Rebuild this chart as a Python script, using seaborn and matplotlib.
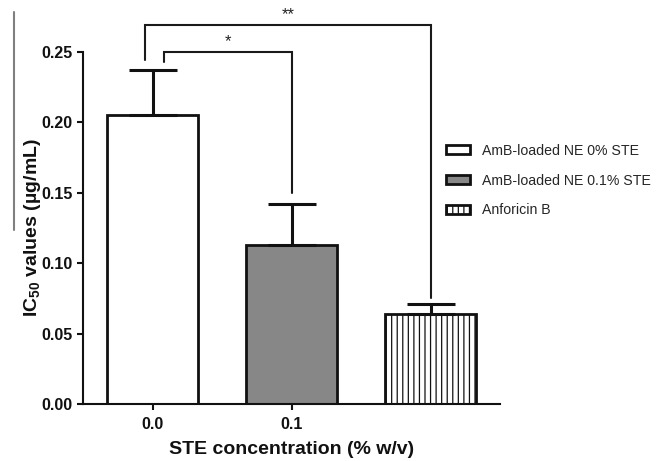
import matplotlib
matplotlib.use("Agg")
import matplotlib.pyplot as plt
from matplotlib.patches import Patch
from matplotlib.lines import Line2D
import seaborn as sns
import pandas as pd

# ---- data ----
groups = ["AmB-loaded NE 0% STE", "AmB-loaded NE 0.1% STE", "Anforicin B"]
means = [0.205, 0.113, 0.064]
errors = [0.032, 0.029, 0.007]
tick_labels = ["0.0", "0.1"]
face_colors = ["#ffffff", "#878787", "#ffffff"]
hatches = ["", "", "|||"]
# significance comparisons: (group i, group j, label)
comparisons = [(0, 1, "*"), (0, 2, "**")]

sns.set_theme(style="ticks")
plt.rcParams["font.family"] = ["Liberation Sans", "DejaVu Sans"]
plt.rcParams["mathtext.fontset"] = "custom"
plt.rcParams["mathtext.rm"] = "Liberation Sans"
plt.rcParams["mathtext.bf"] = "Liberation Sans:bold"
plt.rcParams["hatch.linewidth"] = 0.9

fig = plt.figure(figsize=(6.71, 4.61), dpi=100)
ax = fig.add_axes([83 / 671, 1 - 404 / 461, (500 - 83) / 671, (404 - 52) / 461])

df = pd.DataFrame({"group": groups, "value": means})
sns.barplot(data=df, x="group", y="value", hue="group", palette=face_colors,
            order=groups, hue_order=groups, width=0.66, legend=False,
            edgecolor="#111111", linewidth=2.0, saturation=1, ax=ax, errorbar=None)

for p, h in zip(ax.patches, hatches):
    p.set_hatch(h)

ax.errorbar(range(len(groups)), means, yerr=[[0] * len(errors), errors], fmt="none",
            ecolor="#111111", elinewidth=2.2, capsize=17, capthick=2.2, zorder=1)

ax.set_xlim(-0.5, 2.5)
ax.set_ylim(0, 0.25)
ax.set_yticks([0, 0.05, 0.10, 0.15, 0.20, 0.25])
ax.set_yticklabels([f"{v:.2f}" for v in [0, 0.05, 0.10, 0.15, 0.20, 0.25]])
ax.set_xticks(range(len(tick_labels)))
ax.set_xticklabels(tick_labels)
for lab in ax.get_xticklabels() + ax.get_yticklabels():
    lab.set_fontweight("bold")
    lab.set_fontsize(11.5)
ax.tick_params(axis="both", direction="out", length=4.5, width=1.5, color="#111111",
               pad=3, labelcolor="#111111")
ax.tick_params(axis="x", pad=4.5)
for s in ["top", "right"]:
    ax.spines[s].set_visible(False)
for s in ["left", "bottom"]:
    ax.spines[s].set_linewidth(1.5)
    ax.spines[s].set_color("#111111")

ax.set_xlabel("STE concentration (% w/v)", fontsize=14, fontweight="bold", labelpad=7,
              color="#111111")
ax.set_ylabel(r"IC$_{\mathbf{50}}$ values (µg/mL)", fontsize=14, fontweight="bold",
              labelpad=-1, color="#111111")

# significance brackets
bracket_geo = {
    "*": dict(x0=0.083, y=0.250, y0=0.243, y1=0.150),
    "**": dict(x0=-0.054, y=0.269, y0=0.244, y1=0.075),
}
for i, j, lab in comparisons:
    g = bracket_geo[lab]
    ax.plot([g["x0"], g["x0"], j, j], [g["y0"], g["y"], g["y"], g["y1"]],
            color="#1a1a1a", lw=1.5, clip_on=False, solid_joinstyle="miter")
    ax.text((g["x0"] + j) / 2, g["y"] + 0.002, lab, ha="center", va="bottom",
            fontsize=12, color="#222222", clip_on=False)

handles = [Patch(facecolor=c, edgecolor="#111111", linewidth=2.0, hatch=h)
           for c, h in zip(face_colors, hatches)]
fig.legend(handles, groups, loc="upper left", bbox_to_anchor=(440 / 671, 1 - 138 / 461),
           frameon=False, fontsize=10.2, handlelength=1.75, handleheight=0.55,
           handletextpad=0.85, labelspacing=1.12, borderaxespad=0)

fig.add_artist(Line2D([14 / 671, 14 / 671], [1 - 12 / 461, 1 - 230 / 461],
                      color="#808080", lw=1.5, transform=fig.transFigure))

fig.savefig("out.png", dpi=100)
